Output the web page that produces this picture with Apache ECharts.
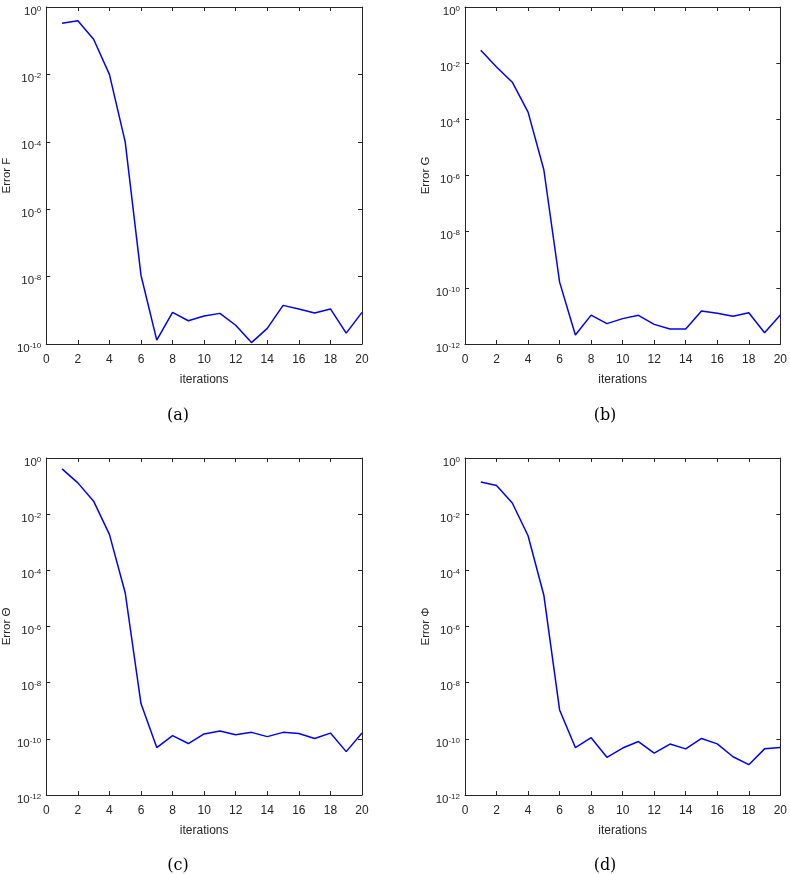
<!DOCTYPE html>
<html><head><meta charset="utf-8">
<script src="https://cdn.jsdelivr.net/npm/echarts/dist/echarts.min.js"></script>
<style>html,body{margin:0;padding:0;background:#fff}#c{width:790px;height:874px}</style>
</head><body><div id="c"></div>
<script>
// ---- data ----
const iterations = [1,2,3,4,5,6,7,8,9,10,11,12,13,14,15,16,17,18,19,20];
const errorF = [0.33,0.39,0.11,0.01,1e-4,1.1e-8,1.3e-10,8.7e-10,4.9e-10,6.8e-10,8.1e-10,3.6e-10,1.1e-10,2.9e-10,1.4e-9,1.1e-9,8.3e-10,1.1e-9,2.1e-10,8.7e-10];
const errorG = [0.029,7.3e-3,2.1e-3,1.8e-4,1.6e-6,1.6e-10,2.1e-12,1.07e-11,5.3e-12,8e-12,1.05e-11,5e-12,3.4e-12,3.4e-12,1.5e-11,1.24e-11,9.7e-12,1.3e-11,2.5e-12,1.07e-11];
const errorTheta = [0.41,0.13,0.029,1.9e-3,1.6e-5,1.8e-9,4.9e-11,1.3e-10,6.8e-11,1.5e-10,1.9e-10,1.4e-10,1.7e-10,1.2e-10,1.7e-10,1.55e-10,1.03e-10,1.6e-10,3.5e-11,1.6e-10];
const errorPhi = [0.14,0.105,0.025,1.7e-3,1.3e-5,1.07e-9,4.9e-11,1.1e-10,2.2e-11,4.7e-11,8e-11,3.1e-11,6.5e-11,4.4e-11,1.03e-10,6.6e-11,2.3e-11,1.2e-11,4.4e-11,4.9e-11];
const yLabels = ['Error F','Error G','Error \u0398','Error \u03A6'];
const yMinExp = [-10,-12,-12,-12];
const captions = ['(a)','(b)','(c)','(d)'];
const xLabel = 'iterations';

// ---- layout ----
const series = [errorF, errorG, errorTheta, errorPhi];
const pos = [
  {left:41, top:7, cx:173, cy:403},
  {left:465, top:7, cx:600, cy:403},
  {left:41, top:458, cx:173, cy:853},
  {left:465, top:458, cx:600, cy:853}
];
const W = 321, H = 337;
const AX = '#262626';
const FONT = '"Liberation Sans", Arial, sans-serif';

const lineStyle = {color: AX, width: 1};
const opt = {
  animation: false,
  backgroundColor: '#fff',
  grid: [], xAxis: [], yAxis: [], series: [], title: []
};
pos.forEach((p, i) => {
  opt.grid.push({left: p.left, top: p.top, width: W, height: H, show: false, containLabel: false});
  const xBase = {
    type: 'value', min: 0, max: 20, interval: 2, gridIndex: i,
    axisLine: {show: true, onZero: false, lineStyle},
    axisTick: {show: true, inside: true, length: 4, lineStyle},
    splitLine: {show: false}
  };
  opt.xAxis.push(Object.assign({}, xBase, {
    position: 'bottom',
    name: xLabel, nameLocation: 'middle', nameGap: 30,
    nameTextStyle: {fontFamily: FONT, fontSize: 12, color: AX},
    axisLabel: {show: true, margin: 10, fontFamily: FONT, fontSize: 12, color: AX}
  }));
  opt.xAxis.push(Object.assign({}, xBase, {position: 'top', axisLabel: {show: false}}));
  const yBase = {
    type: 'log', logBase: 10, min: Math.pow(10, yMinExp[i]), max: 1, interval: 2, gridIndex: i,
    axisLine: {show: true, onZero: false, lineStyle},
    axisTick: {show: true, inside: true, length: 4, lineStyle},
    splitLine: {show: false}, minorTick: {show: false}
  };
  opt.yAxis.push(Object.assign({}, yBase, {
    position: 'left',
    name: yLabels[i], nameLocation: 'middle', nameGap: 30, nameRotate: 90,
    nameTextStyle: {fontFamily: FONT, fontSize: 11.5, color: AX},
    axisLabel: {
      show: true, margin: 5, color: AX, padding: [8, 0, 0, 0],
      formatter: v => '{b|10}{s|' + Math.round(Math.log10(v)) + '}',
      rich: {
        b: {fontFamily: FONT, fontSize: 11.5, color: AX, verticalAlign: 'bottom', lineHeight: 13},
        s: {fontFamily: FONT, fontSize: 8, color: AX, verticalAlign: 'top', lineHeight: 9}
      }
    }
  }));
  opt.yAxis.push(Object.assign({}, yBase, {position: 'right', axisLabel: {show: false}}));
  opt.series.push({
    type: 'line', xAxisIndex: 2 * i, yAxisIndex: 2 * i,
    data: iterations.map((x, k) => [x, series[i][k]]),
    showSymbol: false, symbol: 'none',
    lineStyle: {color: '#0000ff', width: 1.5},
    itemStyle: {color: '#0000ff'}
  });
  opt.title.push({
    text: captions[i], left: p.cx, top: p.cy, textAlign: 'center',
    textStyle: {fontFamily: '"DejaVu Serif", "Liberation Serif", serif', fontWeight: 'normal', fontSize: 16, color: '#000'}
  });
});
const chart = echarts.init(document.getElementById('c'), null, {renderer: 'canvas'});
chart.setOption(opt);
</script>
</body></html>
